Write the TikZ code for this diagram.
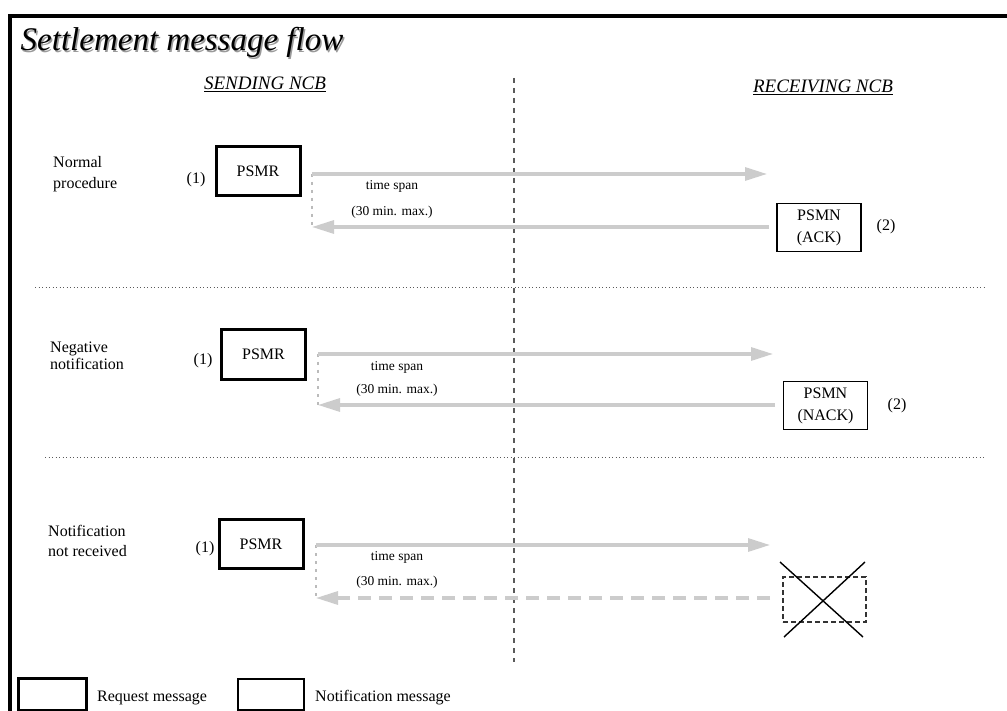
\documentclass[tikz,border=0pt]{standalone}
\usepackage{fontspec}
\setmainfont{Liberation Serif}
\usetikzlibrary{arrows.meta}
\definecolor{arrowgray}{HTML}{CCCCCC}
\definecolor{dotgray}{HTML}{BBBBBB}
\definecolor{divgray}{HTML}{5A5A5A}
\definecolor{shadowgray}{HTML}{9A9A9A}
\begin{document}
\begin{tikzpicture}[x=1pt,y=-1pt,
  reqbox/.style={draw=black,line width=3pt,minimum width=84pt,minimum height=49pt,inner sep=0pt,font=\fontsize{16}{19}\selectfont},
  notifbox/.style={draw=black,line width=1.4pt,minimum width=84pt,minimum height=48pt,inner sep=0pt,align=center,font=\fontsize{16}{22}\selectfont},
  lbltxt/.style={font=\fontsize{16}{20}\selectfont,align=left,anchor=west,inner sep=0pt},
  numtxt/.style={font=\fontsize{16}{19}\selectfont,inner sep=0pt},
  smalltxt/.style={font=\fontsize{13.5}{16}\selectfont,inner sep=0pt},
  headtxt/.style={font=\fontsize{19}{22}\selectfont\itshape,inner sep=0pt,anchor=base},
  msgarrow/.style={draw=arrowgray,line width=3.1pt,-{Triangle[length=22pt,width=13pt]}},
  lostarrow/.style={draw=arrowgray,line width=3.1pt,dash pattern=on 13pt off 8pt,-{Triangle[length=22pt,width=13pt]}},
  spanline/.style={draw=dotgray,line width=2.6pt,dash pattern=on 2.6pt off 5.4pt},
  sepline/.style={draw=divgray,line width=1pt,dash pattern=on 1.2pt off 2.3pt},
  midline/.style={draw=divgray,line width=1.8pt,dash pattern=on 5pt off 5pt},
]
\useasboundingbox (0,0) rectangle (1007,711);
\fill[white] (0,0) rectangle (1007,711);

% frame
\coordinate (ftr) at (1007,16);
\coordinate (ftl) at (10,16);
\coordinate (fbl) at (10,711);
\draw[line width=3.2pt] (ftr) -- (ftl) -- (fbl);

% title with shadow
\node[anchor=base west,inner sep=0pt,text=shadowgray,font=\fontsize{33}{36}\selectfont\itshape] (titleshadow) at (22,52.5) {Settlement message flow};
\node[anchor=base west,inner sep=0pt,font=\fontsize{33}{36}\selectfont\itshape] (title) at (20.5,51) {Settlement message flow};

% column headings
\node[headtxt] (send) at (265,90) {\underline{SENDING NCB}};
\node[headtxt] (recv) at (823,93) {\underline{RECEIVING NCB}};

% central dashed divider
\coordinate (vtop) at (514,78);
\coordinate (vbot) at (514,662);
\draw[midline] (vtop) -- (vbot);

% separators
\coordinate (s1l) at (35,288);
\coordinate (s1r) at (986,288);
\coordinate (s2l) at (45,457);
\coordinate (s2r) at (986,457);
\draw[sepline] (s1l) -- (s1r);
\draw[sepline] (s2l) -- (s2r);

% ---------- section 1 ----------
\node[lbltxt,font=\fontsize{16}{20.5}\selectfont] (l1) at (53,174) {Normal\\procedure};
\node[numtxt] (n11) at (196,180) {(1)};
\node[reqbox] (r1) at (258,171.5) {PSMR};
\node[notifbox] (p1) at (819,227.5) {PSMN\\(ACK)};
\node[numtxt] (n12) at (886,227) {(2)};
\coordinate (a1s) at (312,174);
\coordinate (a1e) at (767,174);
\coordinate (b1s) at (769,227);
\coordinate (b1e) at (312,227);
\draw[spanline] (a1s) -- (b1e);
\draw[msgarrow] (a1s) -- (a1e);
\draw[msgarrow] (b1s) -- (b1e);
\node[smalltxt] (t1) at (392,186) {time span};
\node[smalltxt] (m1) at (392,212) {(30 min. max.)};

% ---------- section 2 ----------
\node[lbltxt,font=\fontsize{16}{17}\selectfont] (l2) at (50,356) {Negative\\notification};
\node[numtxt] (n21) at (203,361) {(1)};
\node[reqbox] (r2) at (263.5,354.5) {PSMR};
\node[notifbox] (p2) at (825.5,405.5) {PSMN\\(NACK)};
\node[numtxt] (n22) at (897,406) {(2)};
\coordinate (a2s) at (318,354);
\coordinate (a2e) at (773,354);
\coordinate (b2s) at (775,405);
\coordinate (b2e) at (318,405);
\draw[spanline] (a2s) -- (b2e);
\draw[msgarrow] (a2s) -- (a2e);
\draw[msgarrow] (b2s) -- (b2e);
\node[smalltxt] (t2) at (397,367) {time span};
\node[smalltxt] (m2) at (397,390) {(30 min. max.)};

% ---------- section 3 ----------
\node[lbltxt,font=\fontsize{16}{20}\selectfont] (l3) at (48,541) {Notification\\not received};
\node[numtxt] (n31) at (205,549) {(1)};
\node[reqbox] (r3) at (261,544) {PSMR};
\node[draw=black!80,line width=1.2pt,dash pattern=on 5pt off 3pt,minimum width=83pt,minimum height=45pt,inner sep=0pt] (p3) at (824.5,599.5) {};
\coordinate (x1a) at (780,562);
\coordinate (x1b) at (863,637);
\coordinate (x2a) at (865,562);
\coordinate (x2b) at (784,637);
\draw[line width=1.4pt] (x1a) -- (x1b);
\draw[line width=1.4pt] (x2a) -- (x2b);
\coordinate (a3s) at (316,545);
\coordinate (a3e) at (770,545);
\coordinate (b3s) at (770,598);
\coordinate (b3e) at (316,598);
\draw[spanline] (a3s) -- (b3e);
\draw[msgarrow] (a3s) -- (a3e);
\draw[lostarrow] (b3s) -- (b3e);
\node[smalltxt] (t3) at (397,557) {time span};
\node[smalltxt] (m3) at (397,582) {(30 min. max.)};

% ---------- legend ----------
\node[draw=black,line width=3pt,minimum width=68pt,minimum height=32pt,inner sep=0pt] (lg1) at (52,694) {};
\node[anchor=west,inner sep=0pt,font=\fontsize{16}{19}\selectfont] (lg1t) at (97,698) {Request message};
\node[draw=black,line width=1.3pt,minimum width=66pt,minimum height=31pt,inner sep=0pt] (lg2) at (271,694.5) {};
\node[anchor=west,inner sep=0pt,font=\fontsize{16}{19}\selectfont] (lg2t) at (315,698) {Notification message};
\end{tikzpicture}
\end{document}
